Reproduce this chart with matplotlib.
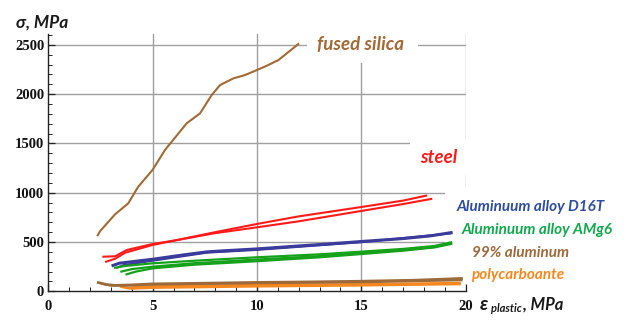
import matplotlib
matplotlib.use("Agg")
import matplotlib.pyplot as plt
from matplotlib.patches import Rectangle
from matplotlib.ticker import MultipleLocator

# ---------------- data ----------------
fs_x = [2.37, 2.48, 3.2, 3.83, 4.31, 4.99, 5.59, 6.63, 7.27, 7.83, 8.23, 8.87, 9.43, 9.99, 10.47, 11.03, 11.98]
fs_y = [568, 610, 781, 892, 1061, 1230, 1433, 1704, 1805, 1991, 2092, 2160, 2194, 2244, 2288, 2346, 2508]

steel1_x = [2.64, 3.2, 3.76, 5.0, 6.0, 8.0, 10.0, 12.0, 15.0, 17.0, 18.1]
steel1_y = [351, 355, 419, 480, 513, 600, 683, 760, 855, 920, 970]
steel2_x = [2.77, 3.2, 3.68, 5.0, 6.0, 8.0, 10.0, 12.0, 15.0, 17.0, 18.35]
steel2_y = [300, 330, 391, 470, 513, 590, 649, 710, 815, 885, 937]

d16_1_x = [3.1, 3.4, 5.0, 6.5, 7.6, 8.5, 10.0, 12.0, 13.4, 15.0, 17.0, 18.3, 19.3]
d16_1_y = [262, 285, 325, 370, 400, 412, 430, 460, 480, 505, 535, 562, 595]
d16_2_x = [3.3, 3.6, 5.0, 7.6, 10.0, 15.0, 19.3]
d16_2_y = [240, 265, 310, 392, 420, 498, 588]

amg1_x = [3.2, 3.6, 5.0, 7.0, 10.0, 13.0, 15.0, 17.0, 18.5, 19.3]
amg1_y = [239, 255, 284, 310, 345, 375, 402, 430, 460, 497]
amg2_x = [3.5, 4.0, 5.0, 7.0, 10.0, 13.0, 15.0, 17.0, 18.5, 19.3]
amg2_y = [200, 225, 250, 285, 322, 357, 388, 420, 450, 488]
amg3_x = [3.75, 4.2, 5.0, 7.0, 10.0, 13.0, 15.0, 17.0, 18.5, 19.3]
amg3_y = [172, 200, 233, 270, 305, 345, 378, 412, 445, 480]

al_1_x = [2.4, 2.8, 3.2, 4.0, 5.0, 7.5, 10.0, 12.5, 15.0, 17.5, 19.8]
al_1_y = [88, 68, 60, 65, 75, 82, 90, 95, 102, 112, 130]
al_2_x = [2.6, 3.0, 4.0, 5.0, 10.0, 15.0, 19.8]
al_2_y = [75, 58, 60, 68, 82, 92, 112]

pc_1_x = [3.5, 3.85, 4.2, 5.0, 7.5, 10.0, 15.0, 19.7]
pc_1_y = [48, 32, 40, 48, 55, 62, 70, 82]
pc_2_x = [4.0, 5.0, 10.0, 15.0, 19.7]
pc_2_y = [30, 38, 52, 62, 75]

x_major = [0, 5, 10, 15, 20]
y_major = [0, 500, 1000, 1500, 2000, 2500]

labels = ["fused silica", "steel", "Aluminuum alloy D16T", "Aluminuum alloy AMg6",
          "99% aluminum", "polycarboante"]

# ---------------- figure ----------------
W, H = 631, 335
fig = plt.figure(figsize=(W / 100, H / 100), dpi=100)
x0, x1, y0, y1 = 48.3, 465.7, 291.3, 34.0
ax = fig.add_axes([x0 / W, 1 - y0 / H, (x1 - x0) / W, (y0 - y1) / H])
ax.set_xlim(0, 20)
ax.set_ylim(0, 2610)

for s in ("top", "right"):
    ax.spines[s].set_visible(False)
for s in ("left", "bottom"):
    ax.spines[s].set_linewidth(1.0)
    ax.spines[s].set_color("#222222")

ax.xaxis.set_major_locator(MultipleLocator(5))
ax.xaxis.set_minor_locator(MultipleLocator(1))
ax.yaxis.set_major_locator(MultipleLocator(500))
ax.yaxis.set_minor_locator(MultipleLocator(100))
ax.tick_params(which="both", direction="in", color="#222222")
ax.tick_params(which="major", length=5, width=0.9)
ax.tick_params(which="minor", length=3, width=0.7)
ax.set_xticks(x_major)
ax.set_yticks(y_major)
tickfont = dict(family="Liberation Serif", weight="bold", size=10.5)
ax.set_xticklabels([str(v) for v in x_major], **tickfont, color="#111111")
ax.set_yticklabels([str(v) for v in y_major], **tickfont, color="#111111")
ax.tick_params(axis="x", pad=6)
ax.tick_params(axis="y", pad=3)

# manual grid
gridc = "#a0a0a0"
for v in y_major[1:]:
    ax.axhline(v, color=gridc, lw=1.0, zorder=0.8)
for v in x_major[1:]:
    ax.axvline(v, color=gridc, lw=1.0, zorder=0.8)

# white label boxes that hide the grid
for (bx0, by0, bx1, by1) in [(12.4, 2320, 17.7, 2800), (17.33, 1180, 21.5, 1545), (19.0, 40, 21.5, 1056)]:
    ax.add_patch(Rectangle((bx0, by0), bx1 - bx0, by1 - by0, facecolor="white",
                           edgecolor="none", zorder=1, clip_on=False))

c_fs = "#a26a35"
c_steel = "#ff1a1a"
c_d16 = "#3b3b9b"
c_amg = "#15a21a"
c_al = "#9c6a3a"
c_pc = "#f5871e"

ax.plot(fs_x, fs_y, color=c_fs, lw=1.5, zorder=2, clip_on=False)
ax.plot(steel1_x, steel1_y, color=c_steel, lw=1.5, zorder=2)
ax.plot(steel2_x, steel2_y, color=c_steel, lw=1.5, zorder=2)
ax.plot(d16_1_x, d16_1_y, color=c_d16, lw=2.2, zorder=2)
ax.plot(d16_2_x, d16_2_y, color=c_d16, lw=1.5, zorder=2)
ax.plot(amg1_x, amg1_y, color=c_amg, lw=1.6, zorder=2)
ax.plot(amg2_x, amg2_y, color=c_amg, lw=1.6, zorder=2)
ax.plot(amg3_x, amg3_y, color=c_amg, lw=1.6, zorder=2)
ax.plot(pc_1_x, pc_1_y, color=c_pc, lw=2.0, zorder=2)
ax.plot(pc_2_x, pc_2_y, color=c_pc, lw=2.0, zorder=2)
ax.plot(al_1_x, al_1_y, color=c_al, lw=2.0, zorder=2)
ax.plot(al_2_x, al_2_y, color=c_al, lw=1.5, zorder=2)

# ---------------- texts ----------------
lab = dict(family="Lato", weight="bold", style="italic")

def ftext(px, py, s, **kw):
    return fig.text(px / W, 1 - py / H, s, **kw)

ftext(16.5, 23, "σ, MPa", fontsize=12.5, color="#1a1a1a", ha="left", va="center", **lab)
ftext(317, 44, labels[0], fontsize=13.5, color=c_fs, ha="left", va="center", **lab)
ftext(420, 157, labels[1], fontsize=13.5, color=c_steel, ha="left", va="center", **lab)
ftext(457, 207, labels[2], fontsize=11, color="#2f4c9e", ha="left", va="center", **lab)
ftext(462, 230, labels[3], fontsize=11, color="#12a84e", ha="left", va="center", **lab)
ftext(472, 253, labels[4], fontsize=11, color=c_al, ha="left", va="center", **lab)
ftext(471, 275, labels[5], fontsize=11, color=c_pc, ha="left", va="center", **lab)

# x axis label: ε_plastic, MPa
ftext(480, 305, "ε", fontsize=14, color="#1a1a1a", ha="left", va="center", **lab)
ftext(491, 309, "plastic", fontsize=8, color="#1a1a1a", ha="left", va="center", **lab)
ftext(523, 305, ", MPa", fontsize=12, color="#1a1a1a", ha="left", va="center", **lab)

fig.savefig("out.png", dpi=100)
